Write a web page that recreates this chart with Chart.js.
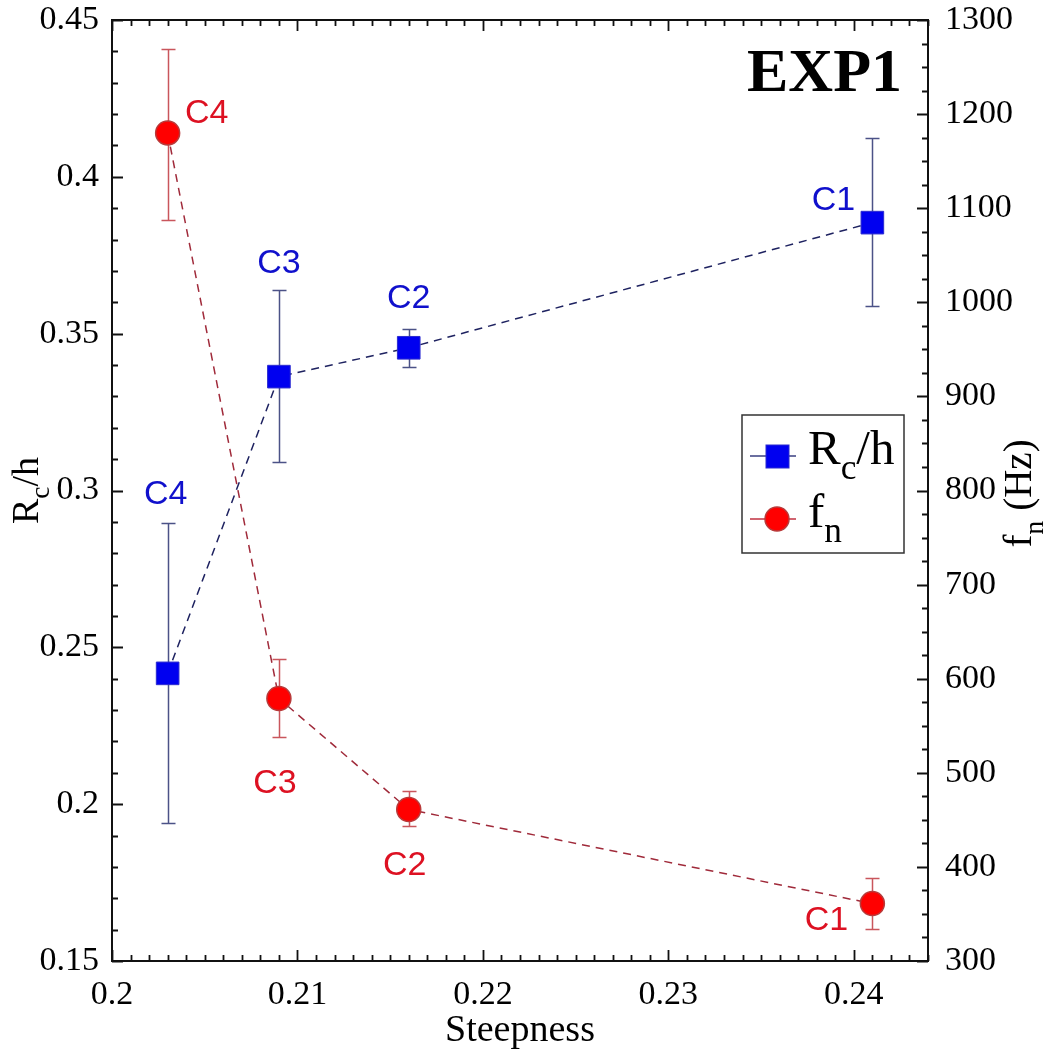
<!DOCTYPE html>
<html>
<head>
<meta charset="utf-8">
<script src="https://cdn.jsdelivr.net/npm/chart.js@4.4.1/dist/chart.umd.min.js"></script>
<style>
  html, body { margin: 0; padding: 0; background: #fff; }
</style>
</head>
<body>
<canvas id="chart" width="1045" height="1054"></canvas>
<script>
// values
const steepness = [0.203, 0.209, 0.216, 0.241];
const caseNames = ['C4', 'C3', 'C2', 'C1'];

const rcH = [0.2417, 0.3363, 0.3455, 0.3854];
const rcHLow = [0.194, 0.309, 0.3395, 0.3589];
const rcHHigh = [0.2895, 0.364, 0.3516, 0.4124];

const fn = [1180, 579, 461, 361];
const fnLow = [1087, 538, 443, 334];
const fnHigh = [1269, 621, 481, 388];

const xTicks = [0.2, 0.21, 0.22, 0.23, 0.24];
const yTicks = [0.15, 0.2, 0.25, 0.3, 0.35, 0.4, 0.45];
const y2Ticks = [300, 400, 500, 600, 700, 800, 900, 1000, 1100, 1200, 1300];

// pixel offsets of the case labels from their marker (style only)
const rcLabelOffsets = [[-2, -179], [0, -113], [0, -49], [-39, -22]];
const fnLabelOffsets = [[39, -19], [-4, 85], [-4, 56], [-46, 17]];

const BLUE = '#0000f0';
const RED = '#ff0000';
const SERIF = '"Liberation Serif", "Times New Roman", serif';
const SANS = '"Liberation Sans", Arial, sans-serif';

function toPoints(xs, ys) {
  return xs.map((x, i) => ({ x, y: ys[i] }));
}

// text like R_c/h : main, subscript, rest
function drawSubText(ctx, parts, x, y, size) {
  let cx = x;
  for (const p of parts) {
    const s = p.sub ? size * 0.72 : size;
    ctx.font = `${s}px ${SERIF}`;
    ctx.fillText(p.t, cx, y + (p.sub ? size * 0.3 : 0));
    cx += ctx.measureText(p.t).width;
  }
  return cx - x;
}

function measureSubText(ctx, parts, size) {
  let w = 0;
  for (const p of parts) {
    ctx.font = `${p.sub ? size * 0.72 : size}px ${SERIF}`;
    w += ctx.measureText(p.t).width;
  }
  return w;
}

function noPad(s) {
  s.paddingTop = 0;
  s.paddingBottom = 0;
  s.paddingLeft = 0;
  s.paddingRight = 0;
}

const errorBars = {
  id: 'errorBars',
  beforeDatasetsDraw(chart) {
    const { ctx, scales } = chart;
    const sets = [
      { lo: rcHLow, hi: rcHHigh, axis: scales.y, color: '#4b5287' },
      { lo: fnLow, hi: fnHigh, axis: scales.y2, color: '#c9565c' }
    ];
    ctx.save();
    ctx.lineWidth = 1.5;
    for (const s of sets) {
      ctx.strokeStyle = s.color;
      ctx.beginPath();
      steepness.forEach((xv, i) => {
        const px = Math.round(scales.x.getPixelForValue(xv)) + 0.5;
        const top = Math.round(s.axis.getPixelForValue(s.hi[i])) + 0.5;
        const bot = Math.round(s.axis.getPixelForValue(s.lo[i])) + 0.5;
        ctx.moveTo(px, top); ctx.lineTo(px, bot);
        ctx.moveTo(px - 7, top); ctx.lineTo(px + 7, top);
        ctx.moveTo(px - 7, bot); ctx.lineTo(px + 7, bot);
      });
      ctx.stroke();
    }
    ctx.restore();
  }
};

const decorations = {
  id: 'decorations',
  afterDraw(chart) {
    const { ctx, chartArea: a, scales } = chart;
    const x = scales.x, y = scales.y, y2 = scales.y2;
    ctx.save();

    // frame and inward ticks
    ctx.strokeStyle = '#111';
    ctx.lineWidth = 2;
    ctx.strokeRect(a.left, a.top, a.right - a.left, a.bottom - a.top);
    ctx.lineWidth = 1.8;
    ctx.beginPath();
    for (let k = 200; k <= 244; k++) {
      const px = Math.round(x.getPixelForValue(k / 1000)) + 0.5;
      const len = k % 10 === 0 ? 11 : 6;
      ctx.moveTo(px, a.bottom); ctx.lineTo(px, a.bottom - len);
      ctx.moveTo(px, a.top); ctx.lineTo(px, a.top + len);
    }
    for (let k = 15; k <= 45; k++) {
      const py = Math.round(y.getPixelForValue(k / 100)) + 0.5;
      const len = k % 5 === 0 ? 11 : 6;
      ctx.moveTo(a.left, py); ctx.lineTo(a.left + len, py);
    }
    for (let k = 300; k <= 1300; k += 25) {
      const py = Math.round(y2.getPixelForValue(k)) + 0.5;
      const len = k % 100 === 0 ? 11 : 6;
      ctx.moveTo(a.right, py); ctx.lineTo(a.right - len, py);
    }
    ctx.stroke();

    // case labels
    ctx.font = `34px ${SANS}`;
    ctx.textAlign = 'center';
    ctx.textBaseline = 'middle';
    steepness.forEach((xv, i) => {
      const px = x.getPixelForValue(xv);
      ctx.fillStyle = '#1010cc';
      ctx.fillText(caseNames[i], px + rcLabelOffsets[i][0], y.getPixelForValue(rcH[i]) + rcLabelOffsets[i][1]);
      ctx.fillStyle = '#dd1122';
      ctx.fillText(caseNames[i], px + fnLabelOffsets[i][0], y2.getPixelForValue(fn[i]) + fnLabelOffsets[i][1]);
    });

    // EXP1 tag
    ctx.fillStyle = '#000';
    ctx.font = `bold 62px ${SERIF}`;
    ctx.textAlign = 'right';
    ctx.textBaseline = 'alphabetic';
    ctx.fillText('EXP1', a.right - 26, a.top + 71);

    // rotated axis titles with subscripts
    ctx.textAlign = 'left';
    const leftParts = [{ t: 'R' }, { t: 'c', sub: true }, { t: '/h' }];
    const rightParts = [{ t: 'f' }, { t: 'n', sub: true }, { t: ' (Hz)' }];
    const midY = (a.top + a.bottom) / 2;
    ctx.save();
    ctx.translate(38, midY);
    ctx.rotate(-Math.PI / 2);
    drawSubText(ctx, leftParts, -measureSubText(ctx, leftParts, 38) / 2, 0, 38);
    ctx.restore();
    ctx.save();
    ctx.translate(1031, midY + 3);
    ctx.rotate(-Math.PI / 2);
    drawSubText(ctx, rightParts, -measureSubText(ctx, rightParts, 39) / 2, 0, 39);
    ctx.restore();

    // legend box
    const bx = a.right - 186, by = a.top + 395, bw = 162, bh = 138;
    ctx.fillStyle = '#fff';
    ctx.fillRect(bx, by, bw, bh);
    ctx.strokeStyle = '#333';
    ctx.lineWidth = 1.5;
    ctx.strokeRect(bx, by, bw, bh);
    const rows = [
      { parts: [{ t: 'R' }, { t: 'c', sub: true }, { t: '/h' }], line: '#3a3f80', style: 'rect' },
      { parts: [{ t: 'f' }, { t: 'n', sub: true }], line: '#c03040', style: 'circle' }
    ];
    rows.forEach((r, i) => {
      const cy = by + 41 + i * 63;
      ctx.strokeStyle = r.line;
      ctx.lineWidth = 1.5;
      ctx.beginPath();
      ctx.moveTo(bx + 8, cy); ctx.lineTo(bx + 54, cy);
      ctx.stroke();
      if (r.style === 'rect') {
        ctx.fillStyle = BLUE;
        ctx.fillRect(bx + 24, cy - 11, 23, 23);
        ctx.strokeStyle = '#2a2ad0';
        ctx.lineWidth = 1;
        ctx.strokeRect(bx + 24, cy - 11, 23, 23);
      } else {
        ctx.fillStyle = RED;
        ctx.beginPath();
        ctx.arc(bx + 35, cy, 12, 0, Math.PI * 2);
        ctx.fill();
        ctx.strokeStyle = '#b83a3a';
        ctx.lineWidth = 1.5;
        ctx.stroke();
      }
      ctx.fillStyle = '#000';
      drawSubText(ctx, r.parts, bx + 66, cy + 8, 49);
    });

    ctx.restore();
  }
};

const tickFont = { family: SERIF, size: 34 };

new Chart(document.getElementById('chart'), {
  type: 'scatter',
  data: {
    datasets: [
      {
        label: 'Rc/h',
        data: toPoints(steepness, rcH),
        yAxisID: 'y',
        showLine: true,
        borderColor: '#1e2260',
        borderWidth: 1.5,
        borderDash: [8, 6],
        pointStyle: 'rect',
        pointRadius: 16,
        pointHoverRadius: 16,
        pointBackgroundColor: BLUE,
        pointBorderColor: '#2a2ad0',
        pointBorderWidth: 1
      },
      {
        label: 'fn',
        data: toPoints(steepness, fn),
        yAxisID: 'y2',
        showLine: true,
        borderColor: '#a02a3a',
        borderWidth: 1.5,
        borderDash: [8, 6],
        pointStyle: 'circle',
        pointRadius: 12,
        pointHoverRadius: 12,
        pointBackgroundColor: RED,
        pointBorderColor: '#b83a3a',
        pointBorderWidth: 1.5
      }
    ]
  },
  options: {
    responsive: false,
    animation: false,
    layout: { autoPadding: false, padding: { top: 20, left: 0, right: 0, bottom: 0 } },
    plugins: {
      legend: { display: false },
      tooltip: { enabled: false }
    },
    scales: {
      x: {
        type: 'linear',
        min: 0.2,
        max: 0.244,
        afterBuildTicks: s => { s.ticks = xTicks.map(v => ({ value: v })); },
        afterFit: s => { s.height = 93; noPad(s); },
        grid: { display: false, drawTicks: false },
        border: { display: false },
        ticks: {
          padding: 14,
          color: '#000',
          font: tickFont,
          maxRotation: 0,
          callback: v => String(Number(v.toFixed(3)))
        },
        title: {
          display: true,
          text: 'Steepness',
          color: '#000',
          font: { family: SERIF, size: 38 },
          padding: { top: 0, bottom: 0 }
        }
      },
      y: {
        type: 'linear',
        position: 'left',
        min: 0.15,
        max: 0.45,
        afterBuildTicks: s => { s.ticks = yTicks.map(v => ({ value: v })); },
        afterFit: s => { s.width = 112; noPad(s); },
        grid: { display: false, drawTicks: false },
        border: { display: false },
        ticks: {
          padding: 13,
          color: '#000',
          font: tickFont,
          callback: v => String(Number(v.toFixed(3)))
        }
      },
      y2: {
        type: 'linear',
        position: 'right',
        min: 300,
        max: 1300,
        afterBuildTicks: s => { s.ticks = y2Ticks.map(v => ({ value: v })); },
        afterFit: s => { s.width = 117; noPad(s); },
        grid: { display: false, drawTicks: false },
        border: { display: false },
        ticks: {
          padding: 17,
          color: '#000',
          font: tickFont,
          callback: v => String(v)
        }
      }
    }
  },
  plugins: [errorBars, decorations]
});
</script>
</body>
</html>
